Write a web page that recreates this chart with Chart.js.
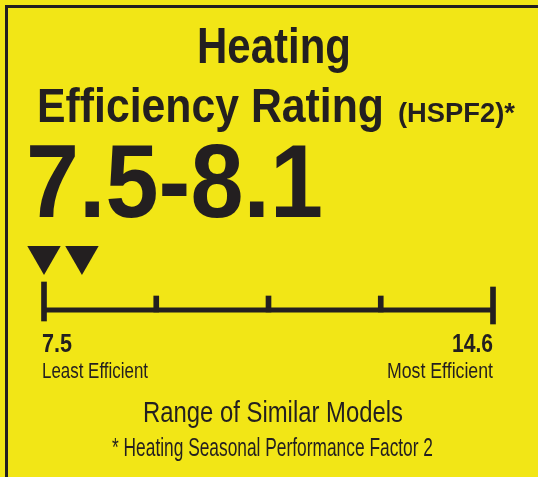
<!DOCTYPE html>
<html>
<head>
<meta charset="utf-8">
<script src="https://cdn.jsdelivr.net/npm/chart.js@4"></script>
<style>
  html, body { margin: 0; padding: 0; background: #f2e616; }
  canvas { display: block; }
</style>
</head>
<body>
<canvas id="label" width="538" height="477"></canvas>
<script>
// range shown on the label (HSPF2)
const scaleMin = 7.5;
const scaleMax = 14.6;
const modelRange = [7.5, 8.1];
const scaleTicks = [7.5, 9.275, 11.05, 12.825, 14.6];
// tick marks as floating bars on a 0-100 vertical scale
const tickSpans = [[9, 48], [18, 34], [18, 34], [18, 34], [6, 43]];
const axisLevel = 20;
const markerLevel = 74.3;

const INK = '#231f20';
const YELLOW = '#f2e616';
const FONT = '"Liberation Sans Narrow", "Liberation Sans", Arial, sans-serif';

// draws text squeezed to the width it has on the printed label
function fitText(ctx, text, x, y, size, weight, width, align) {
    ctx.font = `${weight} ${size}px ${FONT}`;
    const w = ctx.measureText(text).width;
    ctx.save();
    ctx.translate(x, y);
    ctx.scale(width / w, 1);
    ctx.textAlign = align;
    ctx.textBaseline = 'alphabetic';
    ctx.fillStyle = INK;
    ctx.fillText(text, 0, 0);
    ctx.restore();
}

const labelText = {
    id: 'labelText',
    beforeDraw(chart) {
        const { ctx, width, height } = chart;
        ctx.save();
        ctx.fillStyle = YELLOW;
        ctx.fillRect(0, 0, width, height);
        // frame: top and left rules
        ctx.fillStyle = INK;
        ctx.fillRect(5, 5, width - 5, 3);
        ctx.fillRect(5, 5, 3, height - 5);
        ctx.restore();
    },
    afterDraw(chart) {
        const ctx = chart.ctx;
        fitText(ctx, 'Heating', 274, 63, 50, 'bold', 154, 'center');
        fitText(ctx, 'Efficiency Rating', 37, 122, 49, 'bold', 347, 'left');
        fitText(ctx, '(HSPF2)*', 398, 122, 27, 'bold', 117, 'left');
        fitText(ctx, '7.5-8.1', 26, 217, 103, 'bold', 297, 'left');
        fitText(ctx, '7.5', 42, 352, 26, 'bold', 30, 'left');
        fitText(ctx, '14.6', 493, 352, 26, 'bold', 41, 'right');
        fitText(ctx, 'Least Efficient', 42, 378, 22, 'normal', 106, 'left');
        fitText(ctx, 'Most Efficient', 493, 378, 22, 'normal', 106, 'right');
        fitText(ctx, 'Range of Similar Models', 273, 422, 29, 'normal', 260, 'center');
        fitText(ctx, '* Heating Seasonal Performance Factor 2', 272.5, 456, 25, 'normal', 321, 'center');
    }
};

new Chart(document.getElementById('label'), {
    data: {
        datasets: [
            {
                type: 'line',
                data: [{ x: scaleMin, y: axisLevel }, { x: scaleMax, y: axisLevel }],
                borderColor: INK,
                borderWidth: 5,
                pointRadius: 0,
                clip: false
            },
            {
                type: 'bar',
                data: scaleTicks.map((x, i) => ({ x: x, y: tickSpans[i] })),
                backgroundColor: INK,
                barThickness: 5,
                clip: false
            },
            {
                type: 'scatter',
                data: modelRange.map(x => ({ x: x, y: markerLevel })),
                pointStyle: 'triangle',
                rotation: 180,
                radius: 19.3,
                backgroundColor: INK,
                borderColor: INK,
                borderWidth: 0,
                clip: false
            }
        ]
    },
    options: {
        responsive: false,
        animation: false,
        events: [],
        devicePixelRatio: 1,
        layout: { padding: { left: 44, right: 45, top: 230, bottom: 147 } },
        scales: {
            x: { type: 'linear', min: scaleMin, max: scaleMax, offset: false, display: false },
            y: { type: 'linear', min: 0, max: 100, display: false }
        },
        plugins: {
            legend: { display: false },
            tooltip: { enabled: false }
        }
    },
    plugins: [labelText]
});
</script>
</body>
</html>
